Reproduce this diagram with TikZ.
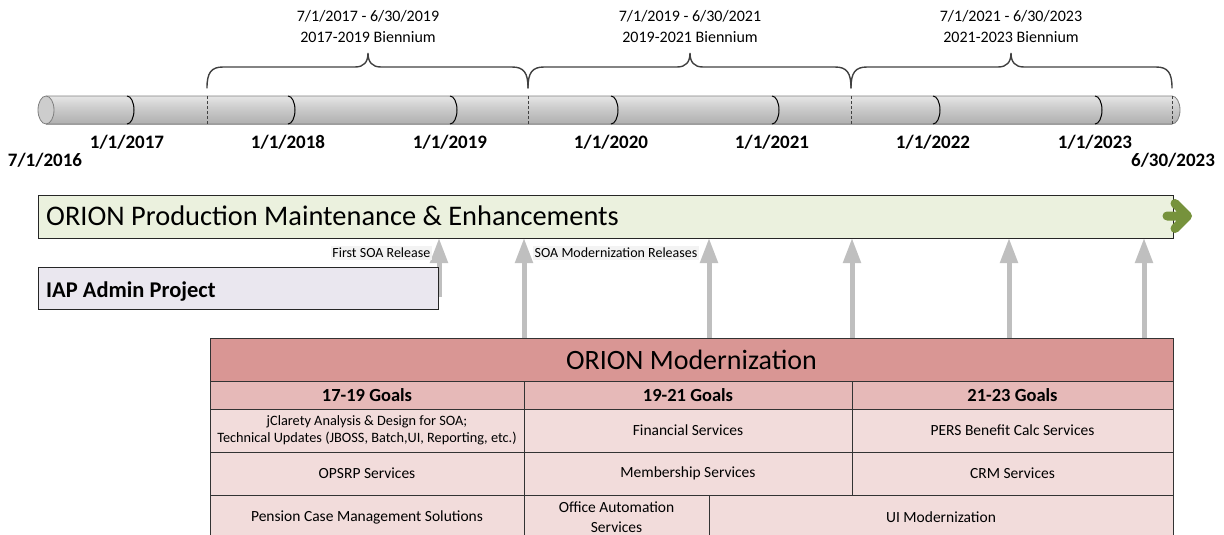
\documentclass[tikz,border=0pt]{standalone}
\usepackage{fontspec}
\setmainfont{Carlito}
\usetikzlibrary{arrows.meta}

\definecolor{prodfill}{HTML}{EBF1DE}
\definecolor{prodarrow}{HTML}{76923C}
\definecolor{iapfill}{HTML}{EAE7EF}
\definecolor{modtitle}{HTML}{D99694}
\definecolor{modgoal}{HTML}{E6B9B8}
\definecolor{modcell}{HTML}{F2DCDB}
\definecolor{relgray}{HTML}{BFBFBF}
\definecolor{relbg}{HTML}{F3F3F3}
\definecolor{bracegray}{HTML}{404040}
\definecolor{tubeTop}{HTML}{C9C9C9}
\definecolor{tubeHi}{HTML}{EEEEEE}
\definecolor{tubeMid}{HTML}{CDCDCD}
\definecolor{tubeDark}{HTML}{A8A8A8}
\definecolor{tubeLow}{HTML}{BEBEBE}
\definecolor{tubeEdge}{HTML}{7F7F7F}

\pgfdeclareverticalshading{tubeshade}{100bp}{color(0bp)=(tubeLow); color(18bp)=(tubeDark); color(55bp)=(tubeMid); color(82bp)=(tubeHi); color(100bp)=(tubeTop)}

\newcommand\fsz[2]{\fontsize{#1}{#2}\selectfont}
% table cell: style, x0, y0, x1, y1, name, text
\newcommand\tcell[7]{%
  \node[#1, minimum width={(#4)-(#2)}, minimum height={(#5)-(#3)}]
    (#6) at ({((#2)+(#4))/2},{((#3)+(#5))/2}) {#7};}
% curly brace over a biennium: left end, tip, right end
\newcommand\biennbrace[3]{%
  \draw[bracestyle] (#1,88) .. controls (#1,73) and (#1+4,67) .. (#1+16,67)
    -- (#2-13,67) .. controls (#2-4,67) and (#2,62) .. (#2,53)
    .. controls (#2,62) and (#2+4,67) .. (#2+13,67)
    -- (#3-16,67) .. controls (#3-4,67) and (#3,73) .. (#3,88);}

\begin{document}
\begin{tikzpicture}[x=1pt,y=-1pt,
  yearlab/.style={font=\fsz{19}{22}\bfseries, inner sep=0},
  bienlab/.style={font=\fsz{16}{21}, align=center, inner sep=0},
  bracestyle/.style={draw=bracegray, line width=1.4pt, line cap=round},
  divider/.style={draw=black, line width=1pt},
  halfyear/.style={draw=bracegray, line width=0.8pt, dash pattern=on 3pt off 2pt},
  prodbox/.style={draw=black!85, line width=0.9pt, fill=prodfill, inner sep=0, outer sep=0, anchor=north west, minimum width=1135, minimum height=43},
  iapbox/.style={draw=black!85, line width=0.9pt, fill=iapfill, inner sep=0, outer sep=0, anchor=north west, minimum width=400, minimum height=42},
  bigtitle/.style={font=\fsz{28.4}{32}, inner sep=0},
  relarrow/.style={draw=relgray, line width=5pt, -{Triangle[width=17pt, length=25pt]}},
  rellabel/.style={font=\fsz{14}{16}, fill=relbg, inner xsep=1.5pt, inner ysep=2pt},
  cellbase/.style={draw=black!80, line width=0.9pt, inner sep=0, outer sep=0, align=center, font=\fsz{15.5}{19}},
  titlecell/.style={cellbase, fill=modtitle, font=\fsz{28}{32}},
  goalcell/.style={cellbase, fill=modgoal, font=\fsz{18.5}{22}\bfseries},
  itemcell/.style={cellbase, fill=modcell}
]
\useasboundingbox (0,0) rectangle (1224,535);
\clip (0,0) rectangle (1224,535);

% ---------- timeline tube ----------
\shade[shading=tubeshade] (46,96) rectangle (1172,124);
\shade[shading=tubeshade] (1172,96) arc[start angle=90, end angle=-90, x radius=8pt, y radius=14pt] -- cycle;
\draw[tubeEdge, line width=0.8pt] (46,96) -- (1172,96)
  arc[start angle=90, end angle=-90, x radius=8pt, y radius=14pt] -- (46,124);
\draw[tubeEdge, line width=0.8pt, fill=tubeMid] (46,110) ellipse[x radius=8pt, y radius=14pt];

% year boundaries
\foreach \yx in {127,288,450,611,772,933,1095}
  \draw[divider] (\yx,96) arc[start angle=90, end angle=-90, x radius=7pt, y radius=14pt];
% biennium boundaries
\foreach \hx in {207,528,851,1172}
  \draw[halfyear] (\hx,96) -- (\hx,124);

% date labels
\node[yearlab] (d2016) at (45,160) {7/1/2016};
\node[yearlab] (d2017) at (127,142) {1/1/2017};
\node[yearlab] (d2018) at (288,142) {1/1/2018};
\node[yearlab] (d2019) at (450,142) {1/1/2019};
\node[yearlab] (d2020) at (611,142) {1/1/2020};
\node[yearlab] (d2021) at (772,142) {1/1/2021};
\node[yearlab] (d2022) at (933,142) {1/1/2022};
\node[yearlab] (d2023) at (1095,142) {1/1/2023};
\node[yearlab] (dend) at (1173,160) {6/30/2023};

% biennium braces and labels
\biennbrace{207}{368}{528}
\biennbrace{528}{690}{851}
\biennbrace{851}{1011}{1172}
\node[bienlab] (bien1) at (368,27) {7/1/2017 - 6/30/2019\\2017-2019 Biennium};
\node[bienlab] (bien2) at (690,27) {7/1/2019 - 6/30/2021\\2019-2021 Biennium};
\node[bienlab] (bien3) at (1011,27) {7/1/2021 - 6/30/2023\\2021-2023 Biennium};

% ---------- production bar ----------
\node[prodbox] (prod) at (38,195) {};
\node[bigtitle, anchor=base west] (prodtitle) at (46,225) {ORION Production Maintenance \& Enhancements};
\draw[prodarrow, line width=9pt, line cap=round, line join=round]
  (1167,216) -- (1185,216) (1175,203.5) -- (1187.5,216) -- (1175,228.5);

% ---------- modernization table ----------
\tcell{titlecell}{210}{338}{1173}{381}{mod}{ORION Modernization}
\tcell{goalcell}{210}{381}{524}{409}{g1}{17-19 Goals}
\tcell{goalcell}{524}{381}{852}{409}{g2}{19-21 Goals}
\tcell{goalcell}{852}{381}{1173}{409}{g3}{21-23 Goals}
\tcell{itemcell, font=\fsz{14.3}{17}}{210}{409}{524}{452}{c11}{jClarety Analysis \& Design for SOA;\\Technical Updates (JBOSS, Batch,UI, Reporting, etc.)}
\tcell{itemcell}{524}{409}{852}{452}{c12}{Financial Services}
\tcell{itemcell}{852}{409}{1173}{452}{c13}{PERS Benefit Calc Services}
\tcell{itemcell}{210}{452}{524}{495}{c21}{OPSRP Services}
\tcell{itemcell}{524}{452}{852}{495}{c22}{Membership Services}
\tcell{itemcell}{852}{452}{1173}{495}{c23}{CRM Services}
\tcell{itemcell}{210}{495}{524}{540}{c31}{Pension Case Management Solutions}
\tcell{itemcell, font=\fsz{15.5}{20}}{524}{495}{709}{540}{c32}{Office Automation\\Services}
\tcell{itemcell}{709}{495}{1173}{540}{c33}{UI Modernization}

% ---------- releases ----------
\coordinate (r1) at (439,297);
\draw[relarrow] (r1) -- (r1 |- prod.south);
\node[iapbox] (iap) at (38,267) {};
\node[font=\fsz{22.5}{27}\bfseries, inner sep=0, anchor=base west] (iaptitle) at (46,297) {IAP Admin Project};

\foreach \rx/\rn in {524/r2,709/r3,852/r4,1009/r5,1144/r6}{
  \coordinate (\rn) at (\rx,0);
  \draw[relarrow] (\rn |- mod.north) -- (\rn |- prod.south);
}
\node[rellabel, anchor=east] (lab1) at (432,253) {First SOA Release};
\node[rellabel, anchor=west] (lab2) at (533,253) {SOA Modernization Releases};
\end{tikzpicture}
\end{document}
